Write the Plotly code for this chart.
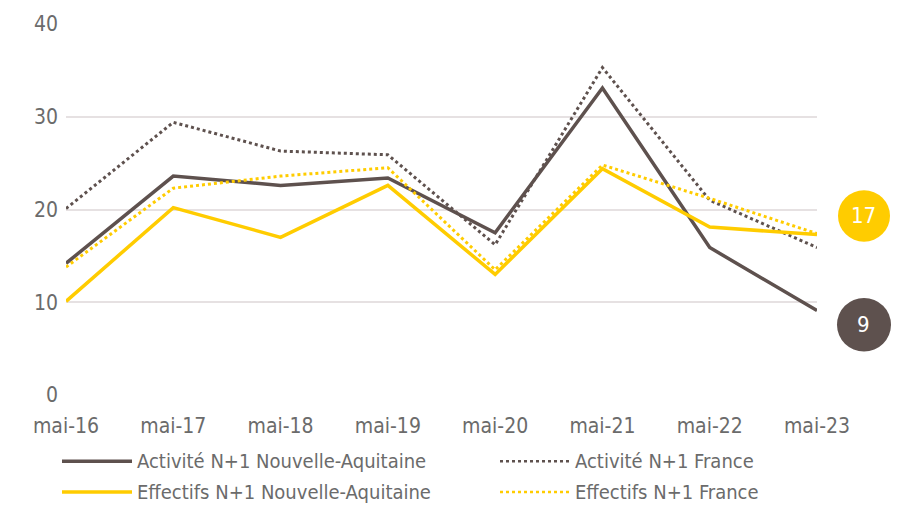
import plotly.graph_objects as go

categories = ["mai-16", "mai-17", "mai-18", "mai-19", "mai-20", "mai-21", "mai-22", "mai-23"]
activite_na = [14.2, 23.6, 22.6, 23.4, 17.5, 33.1, 15.9, 9.1]
activite_fr = [20.1, 29.4, 26.3, 25.9, 16.2, 35.3, 21.0, 15.9]
effectifs_na = [10.1, 20.2, 17.0, 22.6, 13.0, 24.4, 18.1, 17.3]
effectifs_fr = [13.8, 22.3, 23.6, 24.5, 13.5, 24.8, 21.2, 17.4]
y_ticks = [0, 10, 20, 30, 40]

DARK = "#5e514e"
YELLOW = "#ffcc00"
FONT = "DejaVu Sans Condensed, Liberation Sans Narrow, DejaVu Sans, sans-serif"
GREY = "#6b6b6b"

series = [
    ("Activité N+1 Nouvelle-Aquitaine", activite_na, DARK, "solid"),
    ("Activité N+1 France", activite_fr, DARK, "dot"),
    ("Effectifs N+1 Nouvelle-Aquitaine", effectifs_na, YELLOW, "solid"),
    ("Effectifs N+1 France", effectifs_fr, YELLOW, "dot"),
]

fig = go.Figure()
x_idx = list(range(len(categories)))
for name, vals, col, dash in series:
    fig.add_trace(go.Scatter(
        x=x_idx, y=vals, mode="lines", name=name,
        line=dict(color=col, width=3.5 if dash == "solid" else 3, dash=dash),
        showlegend=False,
    ))

# Custom legend (two columns)
W, H = 751.0, 375.0
def px_x(p):
    return (p - 66) / W
def px_y(p):
    return (395 - p) / H

legend_pos = [(62, 462), (500, 462), (62, 493), (500, 493)]
shapes = []
annotations = []
for (name, vals, col, dash), (lx, ly) in zip(series, legend_pos):
    shapes.append(dict(type="line", xref="paper", yref="paper",
                       x0=px_x(lx), x1=px_x(lx + 70), y0=px_y(ly), y1=px_y(ly),
                       line=dict(color=col, width=3.5 if dash == "solid" else 2.5, dash=dash)))
    annotations.append(dict(xref="paper", yref="paper", x=px_x(lx + 73), y=px_y(ly),
                            text=name, showarrow=False, xanchor="left", yanchor="middle",
                            font=dict(family=FONT, size=20, color=GREY)))

# End value badges
badges = [(effectifs_na[-1], YELLOW, 864, 214, 26), (activite_na[-1], DARK, 864, 324, 27)]
for val, col, cx, cy, r in badges:
    shapes.append(dict(type="circle", xref="paper", yref="paper",
                       x0=px_x(cx - r), x1=px_x(cx + r), y0=px_y(cy + r), y1=px_y(cy - r),
                       fillcolor=col, line=dict(width=0)))
    annotations.append(dict(xref="paper", yref="paper", x=px_x(cx), y=px_y(cy),
                            text=str(round(val)), showarrow=False,
                            xanchor="center", yanchor="middle",
                            font=dict(family=FONT, size=22, color="white")))

fig.update_layout(
    width=897, height=506,
    margin=dict(l=66, r=80, t=20, b=111),
    paper_bgcolor="white", plot_bgcolor="white",
    font=dict(family=FONT, size=20, color=GREY),
    shapes=shapes, annotations=annotations,
    showlegend=False,
)
fig.update_xaxes(
    range=[0, len(categories) - 1], tickvals=x_idx, ticktext=categories,
    showgrid=False, zeroline=False, showline=False,
    tickfont=dict(family=FONT, size=21, color=GREY), ticklabelstandoff=16,
)
fig.update_yaxes(
    range=[0, 40], tickvals=y_ticks, showgrid=True, gridcolor="#e6e1e2", gridwidth=2,
    zeroline=False, showline=False,
    tickfont=dict(family=FONT, size=21, color=GREY), ticklabelstandoff=7,
)

fig.write_html("out.html", config={"displayModeBar": False},
               post_script="document.body.style.margin='0';document.body.style.overflow='hidden';")
